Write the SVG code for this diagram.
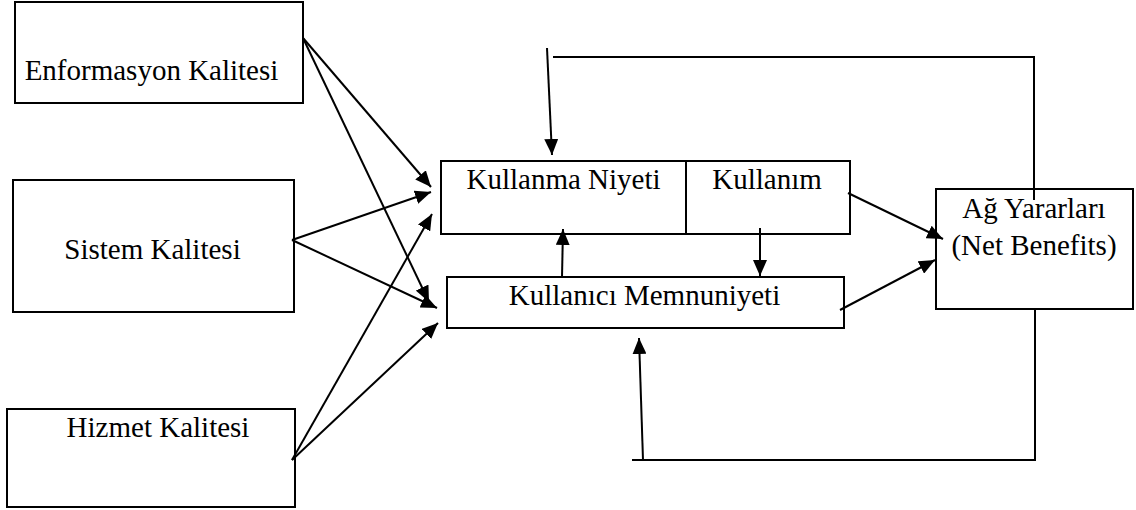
<svg xmlns="http://www.w3.org/2000/svg" width="1136" height="510" viewBox="0 0 1136 510">
  <defs>
    <style>
      .box { fill: #ffffff; stroke: #000000; stroke-width: 2; }
      .lbl { font-family: "Liberation Serif", "Times New Roman", serif; font-size: 29px; fill: #000000; text-anchor: middle; }
      .ln { fill: none; stroke: #000000; stroke-width: 2; }
      .arr { fill: none; stroke: #000000; stroke-width: 2; marker-end: url(#ah); }
    </style>
    <marker id="ah" viewBox="0 0 16 14" refX="16" refY="7" markerWidth="16" markerHeight="14" markerUnits="userSpaceOnUse" orient="auto">
      <path d="M0,0 L16,7 L0,14 Z" fill="#000000"/>
    </marker>
  </defs>
  <rect width="1136" height="510" fill="#ffffff"/>

  <g id="enformasyon-kalitesi">
    <rect class="box" x="15" y="2" width="288" height="101"/>
    <text class="lbl" x="151.5" y="80">Enformasyon Kalitesi</text>
  </g>
  <g id="sistem-kalitesi">
    <rect class="box" x="13" y="180" width="281" height="132"/>
    <text class="lbl" x="152.5" y="259">Sistem Kalitesi</text>
  </g>
  <g id="hizmet-kalitesi">
    <rect class="box" x="7" y="409" width="288" height="98"/>
    <text class="lbl" x="158" y="437">Hizmet Kalitesi</text>
  </g>
  <g id="kullanma-niyeti">
    <rect class="box" x="441" y="161" width="245" height="73"/>
    <text class="lbl" x="563.5" y="189">Kullanma Niyeti</text>
  </g>
  <g id="kullanim">
    <rect class="box" x="686" y="161" width="164" height="73"/>
    <text class="lbl" x="767" y="189">Kullanım</text>
  </g>
  <g id="kullanici-memnuniyeti">
    <rect class="box" x="447" y="277" width="397" height="51"/>
    <text class="lbl" x="644.5" y="305">Kullanıcı Memnuniyeti</text>
  </g>
  <g id="ag-yararlari">
    <rect class="box" x="936" y="189" width="197" height="120"/>
    <text class="lbl" x="1034" y="218">Ağ Yararları</text>
    <text class="lbl" x="1034" y="255">(Net Benefits)</text>
  </g>

  <g id="connectors">
    <line class="arr" x1="303" y1="38" x2="431" y2="187"/>
    <line class="arr" x1="303" y1="38" x2="429" y2="302"/>
    <line class="arr" x1="292" y1="240" x2="431" y2="192"/>
    <line class="arr" x1="292" y1="240" x2="437" y2="308"/>
    <line class="arr" x1="292" y1="460" x2="432" y2="214"/>
    <line class="arr" x1="292" y1="460" x2="438" y2="323"/>
    <line class="arr" x1="562" y1="277" x2="563" y2="229"/>
    <line class="arr" x1="760" y1="228" x2="760" y2="276"/>
    <line class="arr" x1="848" y1="193" x2="943" y2="239"/>
    <line class="arr" x1="840" y1="310" x2="935" y2="260"/>
    <polyline class="ln" points="1034,200 1034,57 553,57"/>
    <line class="arr" x1="547" y1="48" x2="552" y2="155"/>
    <polyline class="ln" points="1035,309 1035,460 632,460"/>
    <line class="arr" x1="643" y1="460" x2="639" y2="338"/>
  </g>
</svg>
